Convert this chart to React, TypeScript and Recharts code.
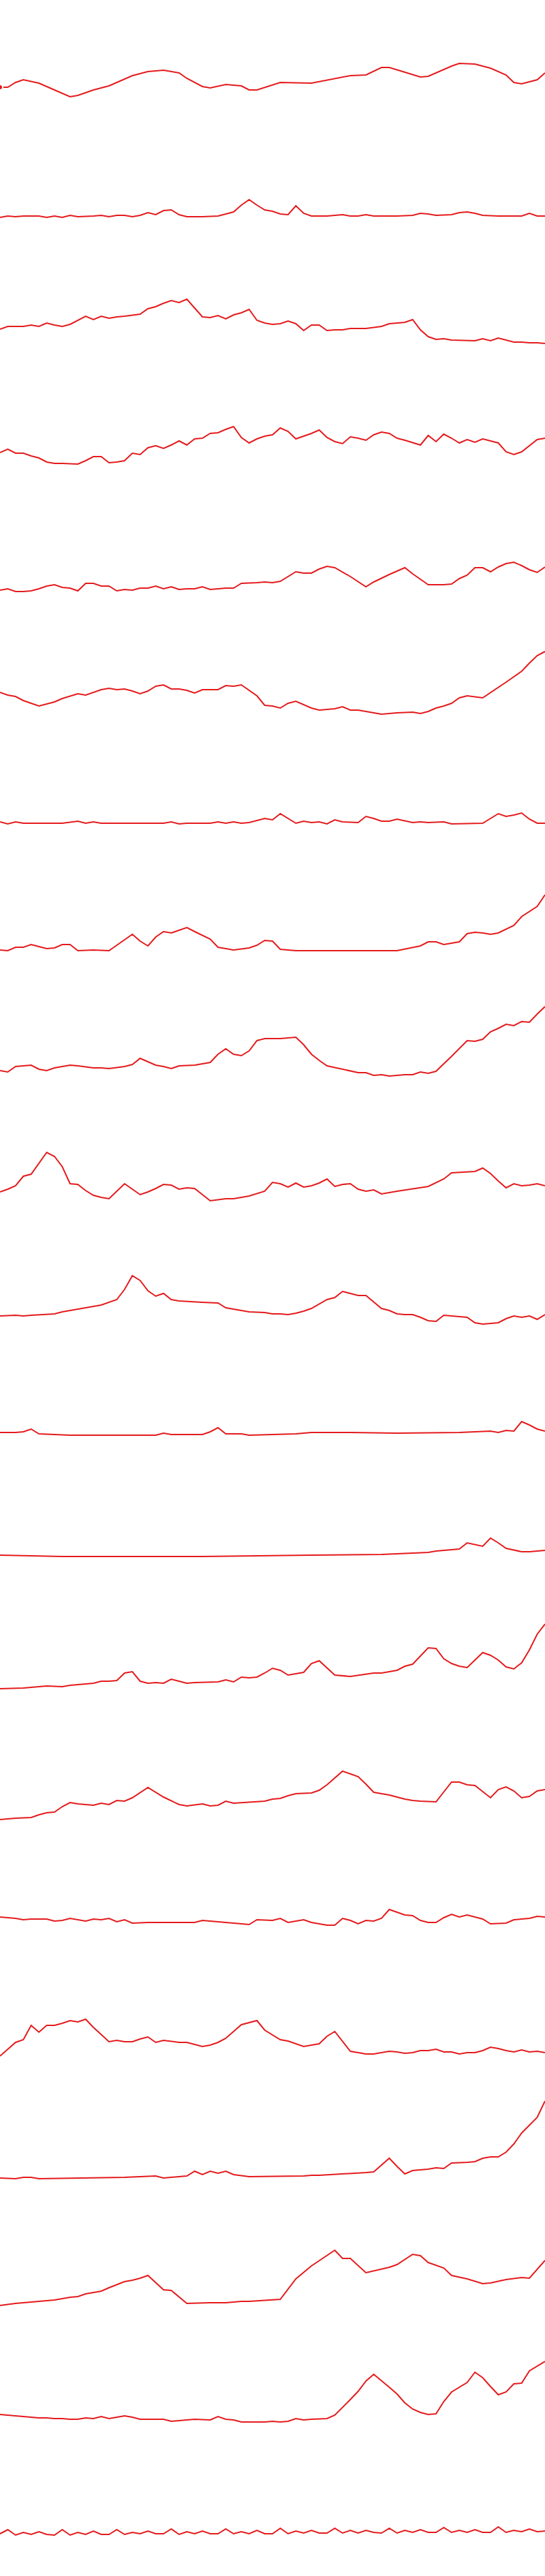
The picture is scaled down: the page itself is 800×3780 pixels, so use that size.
import { LineChart, Line, XAxis, YAxis } from 'recharts';

// 21 daily series (days 0..70), one sparkline per row
const LAST_DAY = 70;
const ROW_WIDTH = 800;
const ROW_HEIGHT = 180;
const LINE_COLOR = '#e41a1c';

type Pt = [number, number];

const rowA: Pt[] = [[0,52],[1,52],[2,59],[3,63],[5,58],[7,48],[9,38],[10,40],[12,48],[14,54],[17,69],[19,75],[21,77],[23,73],[24,65],[26,53],[27,51],[29,56],[31,54],[32,48],[33,48],[36,59],[40,58],[45,69],[47,70],[49,81],[50,81],[52,74],[54,67],[55,68],[58,83],[59,87],[61,86],[63,80],[65,70],[66,59],[67,57],[69,63],[70,73]];
const rowB: Pt[] = [[0,41],[1,43],[2,42],[3,43],[5,43],[6,41],[7,43],[8,41],[9,44],[10,42],[12,43],[13,44],[14,42],[15,44],[16,44],[17,42],[18,44],[19,48],[20,45],[21,51],[22,52],[23,45],[24,42],[26,42],[28,43],[30,49],[31,59],[32,67],[33,59],[34,52],[35,50],[36,46],[37,45],[38,58],[39,47],[40,43],[42,43],[44,45],[45,43],[46,43],[47,45],[48,43],[51,43],[53,44],[54,47],[55,46],[56,44],[58,45],[59,48],[60,49],[61,47],[62,44],[64,43],[67,43],[68,47],[69,43],[70,43]];
const rowC: Pt[] = [[0,57],[1,61],[3,61],[4,63],[5,61],[6,66],[7,63],[8,61],[9,64],[11,76],[12,71],[13,76],[14,73],[15,75],[16,76],[18,79],[19,87],[20,90],[21,95],[22,99],[23,96],[24,101],[25,88],[26,75],[27,74],[28,77],[29,72],[30,78],[31,81],[32,86],[33,70],[34,66],[35,64],[36,65],[37,69],[38,65],[39,55],[40,63],[41,63],[42,55],[43,56],[44,56],[45,58],[47,58],[49,61],[50,65],[51,66],[52,67],[53,71],[54,56],[55,46],[56,42],[57,43],[58,41],[61,40],[62,43],[63,40],[64,44],[66,38],[67,38],[68,37],[69,37],[70,36]];
const rowD: Pt[] = [[0,56],[1,61],[2,55],[3,55],[4,51],[5,48],[6,42],[7,40],[8,40],[10,39],[11,44],[12,50],[13,50],[14,41],[15,42],[16,44],[17,55],[18,53],[19,63],[20,66],[21,62],[22,67],[23,73],[24,67],[25,76],[26,77],[27,84],[28,85],[29,90],[30,94],[31,78],[32,70],[33,76],[34,80],[35,82],[36,92],[37,87],[38,76],[40,84],[41,89],[42,78],[43,72],[44,69],[45,79],[46,77],[47,74],[48,82],[49,86],[50,84],[51,77],[52,74],[54,67],[55,81],[56,72],[57,83],[58,77],[59,70],[60,75],[61,71],[62,76],[64,70],[65,57],[66,53],[67,57],[69,75],[70,77]];
const rowE: Pt[] = [[0,34],[1,36],[2,32],[3,32],[4,33],[5,36],[6,40],[7,42],[8,38],[9,37],[10,33],[11,44],[12,44],[13,40],[14,40],[15,33],[16,35],[17,34],[18,37],[19,37],[20,40],[21,36],[22,39],[23,35],[24,36],[25,36],[26,39],[27,35],[28,36],[29,37],[30,37],[31,44],[33,45],[34,46],[35,45],[36,47],[38,61],[39,59],[40,59],[41,65],[42,69],[43,67],[45,54],[47,39],[48,46],[50,57],[52,67],[53,58],[54,50],[55,42],[56,42],[57,42],[58,43],[59,51],[60,56],[61,67],[62,67],[63,61],[64,68],[65,73],[66,75],[67,70],[68,64],[69,60],[70,68]];
const rowF: Pt[] = [[0,64],[1,60],[2,58],[3,52],[4,48],[5,44],[6,47],[7,50],[8,55],[10,62],[11,60],[13,68],[14,70],[15,68],[16,69],[17,66],[18,62],[19,66],[20,73],[21,75],[22,69],[23,69],[24,67],[25,63],[26,68],[28,68],[29,74],[30,73],[31,75],[33,59],[34,45],[35,44],[36,41],[37,48],[38,51],[40,41],[41,38],[43,40],[44,43],[45,38],[46,38],[47,36],[49,32],[51,34],[53,35],[54,33],[55,36],[56,41],[57,44],[58,48],[59,56],[60,59],[62,56],[65,79],[67,95],[68,107],[69,118],[70,124]];
const rowG: Pt[] = [[0,54],[1,51],[2,54],[3,52],[5,52],[8,52],[10,55],[11,52],[12,54],[13,52],[21,52],[22,54],[23,51],[24,52],[27,52],[28,54],[29,52],[30,54],[31,52],[32,53],[34,59],[35,57],[36,66],[38,52],[39,55],[40,53],[41,54],[42,51],[43,57],[44,54],[46,53],[47,62],[48,59],[49,55],[50,55],[51,58],[53,53],[54,54],[55,53],[57,54],[58,51],[62,52],[64,66],[65,62],[66,64],[67,67],[68,58],[69,52],[70,52]];
const rowH: Pt[] = [[0,46],[1,45],[2,50],[3,50],[4,54],[5,51],[6,48],[7,49],[8,54],[9,54],[10,45],[12,46],[14,45],[15,53],[17,69],[18,59],[19,52],[20,65],[21,73],[22,71],[24,79],[25,73],[27,62],[28,50],[29,48],[30,46],[32,49],[33,53],[34,60],[35,59],[36,47],[38,45],[42,45],[51,45],[54,52],[55,58],[56,58],[57,54],[59,58],[60,70],[61,72],[62,71],[63,69],[64,71],[66,82],[67,95],[69,110],[70,127]];
const rowI: Pt[] = [[0,49],[1,47],[2,55],[3,56],[4,57],[5,51],[6,49],[7,53],[9,57],[10,56],[12,53],[13,53],[14,52],[16,55],[17,58],[18,67],[19,62],[20,57],[21,55],[22,52],[23,56],[25,57],[27,61],[28,73],[29,81],[30,73],[31,71],[32,78],[33,93],[34,96],[36,96],[38,98],[39,87],[40,73],[41,64],[42,56],[46,46],[47,46],[48,42],[49,43],[50,41],[52,43],[53,43],[54,47],[55,45],[56,48],[58,70],[60,93],[61,92],[62,95],[63,106],[64,111],[65,117],[66,115],[67,121],[68,120],[69,132],[70,143]];
const rowJ: Pt[] = [[0,51],[1,55],[2,60],[3,74],[4,77],[6,109],[7,103],[8,88],[9,63],[10,62],[11,53],[12,46],[13,43],[14,41],[15,52],[16,63],[17,55],[18,47],[19,51],[20,56],[21,62],[22,61],[23,55],[24,57],[25,56],[27,38],[29,41],[30,41],[32,45],[34,52],[35,65],[36,63],[37,58],[38,64],[39,58],[40,60],[41,64],[42,70],[43,59],[44,62],[45,63],[46,55],[47,52],[48,54],[49,48],[51,52],[55,59],[57,70],[58,79],[61,81],[62,86],[63,78],[64,67],[65,57],[66,63],[67,60],[68,61],[69,63],[70,60]];
const rowK: Pt[] = [[0,49],[2,50],[3,49],[4,50],[7,52],[8,55],[10,59],[13,65],[15,73],[16,88],[17,108],[18,101],[19,86],[20,78],[21,82],[22,73],[23,71],[26,69],[28,68],[29,61],[32,55],[34,54],[35,52],[36,52],[37,51],[38,53],[39,56],[40,60],[42,73],[43,76],[44,85],[45,82],[46,79],[47,79],[49,60],[50,57],[51,52],[52,51],[53,51],[54,47],[55,42],[56,41],[57,50],[60,47],[61,39],[62,37],[63,38],[64,39],[65,45],[66,49],[67,47],[68,49],[69,44],[70,51]];
const rowL: Pt[] = [[0,58],[2,58],[3,59],[4,63],[5,56],[9,54],[12,54],[20,54],[21,57],[22,55],[26,55],[27,59],[28,65],[29,56],[31,56],[32,54],[38,56],[40,58],[45,58],[51,57],[59,58],[63,60],[64,58],[65,61],[66,60],[67,74],[68,69],[69,63],[70,60]];
const rowM: Pt[] = [[0,58],[8,56],[26,56],[40,58],[49,59],[55,62],[56,64],[59,67],[60,76],[62,71],[63,83],[64,76],[65,68],[67,63],[68,63],[70,65]];
const rowN: Pt[] = [[0,42],[3,43],[6,46],[8,45],[9,47],[12,50],[13,53],[14,53],[15,54],[16,65],[17,67],[18,53],[19,50],[20,51],[21,50],[22,56],[23,53],[24,50],[25,51],[28,52],[29,55],[30,52],[31,59],[32,58],[33,59],[34,65],[35,72],[36,69],[37,62],[39,66],[40,79],[41,83],[43,62],[45,60],[48,65],[49,65],[51,69],[52,75],[53,78],[55,102],[56,101],[57,86],[58,79],[59,75],[60,73],[61,84],[62,95],[63,91],[64,84],[65,74],[66,71],[67,80],[68,99],[69,122],[70,137]];
const rowO: Pt[] = [[0,30],[2,32],[4,33],[5,37],[6,40],[7,41],[8,49],[9,55],[10,53],[11,52],[12,51],[13,54],[14,52],[15,58],[16,57],[17,62],[19,77],[21,63],[23,52],[24,50],[26,53],[27,50],[28,51],[29,57],[30,54],[34,57],[35,60],[36,61],[37,65],[38,68],[40,69],[41,73],[42,81],[44,101],[45,97],[46,93],[47,82],[48,70],[50,66],[51,63],[52,60],[53,58],[54,57],[56,56],[58,85],[59,85],[60,81],[61,80],[63,62],[64,74],[65,78],[66,72],[67,62],[68,64],[69,72],[70,74]];
const rowP: Pt[] = [[0,67],[1,66],[2,65],[3,63],[4,64],[6,64],[7,61],[8,62],[9,65],[11,61],[12,64],[13,63],[14,65],[15,60],[16,63],[17,58],[19,59],[21,59],[25,59],[26,62],[29,59],[32,56],[33,63],[35,62],[36,65],[37,59],[39,63],[40,59],[42,55],[43,55],[44,65],[45,62],[46,57],[47,62],[48,61],[49,65],[50,78],[52,70],[53,69],[54,62],[55,59],[56,59],[57,66],[58,71],[59,67],[60,70],[62,64],[63,57],[65,58],[66,63],[68,65],[69,68],[70,67]];
const rowQ: Pt[] = [[0,43],[1,53],[2,63],[3,67],[4,88],[5,78],[6,88],[7,88],[8,91],[9,95],[10,93],[11,97],[12,85],[14,64],[15,66],[16,64],[17,64],[18,68],[19,71],[20,63],[21,66],[23,63],[24,63],[25,60],[26,57],[27,59],[28,63],[29,69],[31,89],[33,95],[34,81],[36,67],[37,65],[39,57],[41,61],[42,72],[43,79],[45,50],[47,46],[48,46],[50,50],[51,49],[52,47],[53,48],[54,51],[55,51],[56,53],[57,49],[58,49],[59,46],[60,48],[61,48],[62,51],[63,56],[64,54],[65,51],[66,49],[67,52],[68,49],[69,50],[70,48]];
const rowR: Pt[] = [[0,44],[2,43],[3,45],[4,45],[5,43],[16,45],[20,47],[21,44],[24,47],[25,54],[26,49],[27,54],[28,51],[29,54],[30,49],[32,46],[39,47],[40,48],[41,48],[47,52],[48,53],[50,73],[51,61],[52,50],[53,55],[55,57],[56,59],[57,58],[58,66],[60,67],[61,68],[62,73],[63,75],[64,75],[65,82],[66,94],[67,110],[69,133],[70,157]];
const rowS: Pt[] = [[0,37],[2,40],[4,42],[5,43],[7,45],[9,49],[10,50],[11,54],[12,56],[13,58],[14,63],[16,72],[17,74],[18,77],[19,81],[21,60],[22,59],[24,40],[27,41],[29,41],[31,43],[32,43],[36,46],[38,76],[40,95],[43,118],[44,106],[45,106],[47,85],[50,93],[51,97],[53,112],[54,110],[55,100],[57,92],[58,81],[60,76],[62,69],[63,70],[65,75],[67,78],[68,77],[70,103]];
const rowT: Pt[] = [[0,57],[3,54],[5,52],[6,52],[7,51],[8,51],[9,50],[10,50],[11,52],[12,51],[13,54],[14,51],[15,53],[16,55],[17,53],[18,50],[21,50],[22,47],[25,50],[27,49],[28,54],[29,50],[30,49],[31,46],[34,46],[35,47],[36,46],[37,47],[38,51],[39,49],[40,50],[42,51],[43,56],[45,79],[46,91],[47,106],[48,116],[50,97],[51,87],[52,74],[53,65],[54,60],[55,57],[56,58],[57,76],[58,90],[60,104],[61,119],[62,111],[63,98],[64,86],[65,90],[66,102],[67,103],[68,121],[70,135]];
// weekly-patterned series: one value per day
const rowUValues = [62,68,60,64,61,65,61,60,68,60,64,61,66,61,61,68,61,64,62,66,62,62,69,61,65,62,66,62,62,69,62,65,62,67,62,62,70,62,66,63,67,63,63,70,63,67,63,67,64,63,70,63,67,64,68,64,64,71,64,67,64,68,64,64,72,64,67,65,69,65,66];
const rowU: Pt[] = rowUValues.map((v, i) => [i, v]);

const ROWS: Pt[][] = [rowA, rowB, rowC, rowD, rowE, rowF, rowG, rowH, rowI, rowJ, rowK, rowL, rowM, rowN, rowO, rowP, rowQ, rowR, rowS, rowT, rowU];

function Sparkline({ points }: { points: Pt[] }) {
  const data = points.map(([d, v]) => ({ d, v }));
  return (
    <LineChart width={ROW_WIDTH} height={ROW_HEIGHT} data={data} margin={{ top: 0, right: 0, bottom: 0, left: 0 }}>
      <XAxis type="number" dataKey="d" domain={[0, LAST_DAY]} hide />
      <YAxis type="number" domain={[0, ROW_HEIGHT]} hide />
      <Line
        type="linear"
        dataKey="v"
        stroke={LINE_COLOR}
        strokeWidth={2}
        dot={false}
        isAnimationActive={false}
      />
    </LineChart>
  );
}

export default function App() {
  return (
    <div style={{ width: ROW_WIDTH, background: '#fff' }}>
      <style>{'body { margin: 0; }'}</style>
      {ROWS.map((pts, i) => (
        <Sparkline key={i} points={pts} />
      ))}
    </div>
  );
}
